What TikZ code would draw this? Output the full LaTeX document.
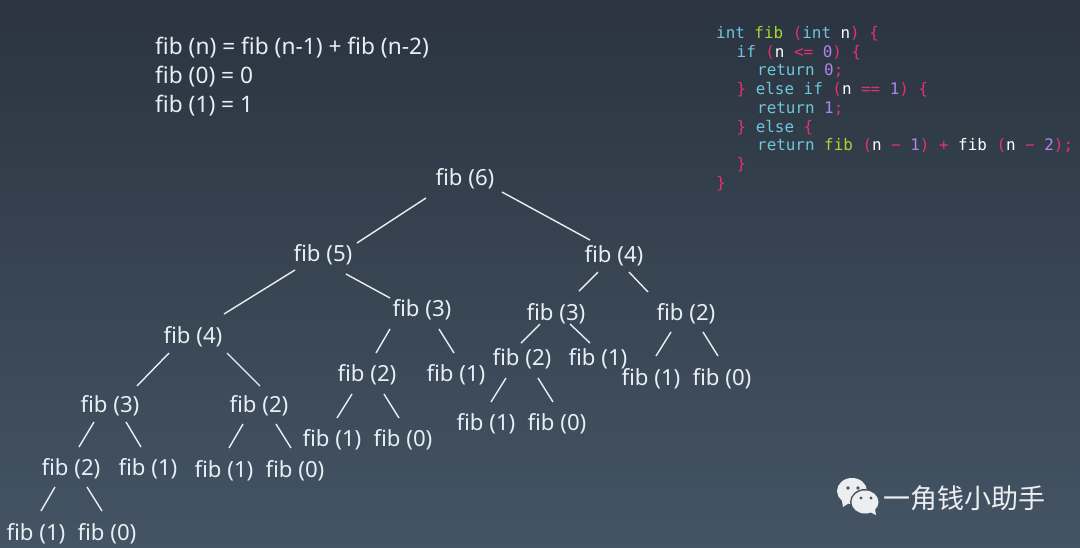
\documentclass[tikz,border=0pt]{standalone}
\usepackage{fontspec}
\setmainfont{Noto Sans}
\setmonofont{DejaVu Sans Mono}
\newfontfamily\cjkfont{Noto Sans CJK SC}
\definecolor{ink}{HTML}{E6F0F4}
\definecolor{bgtop}{HTML}{2B3440}
\definecolor{bgbottom}{HTML}{445464}
\definecolor{keyword}{HTML}{6CC6DC}
\definecolor{callname}{HTML}{A6D52F}
\definecolor{symbol}{HTML}{E5306F}
\definecolor{number}{HTML}{AE86EE}
\definecolor{logo}{HTML}{ECEEF0}
\newcommand{\kw}[1]{\textcolor{keyword}{#1}}
\newcommand{\fn}[1]{\textcolor{callname}{#1}}
\newcommand{\sy}[1]{\textcolor{symbol}{#1}}
\newcommand{\nm}[1]{\textcolor{number}{#1}}
\begin{document}
\begin{tikzpicture}[
  x=1pt, y=-1pt,
  fibnode/.style={text=ink, inner sep=0pt, text height=21pt, text depth=5pt, font=\fontsize{22.2}{25}\selectfont},
  formula/.style={fibnode, anchor=west, font=\fontsize{22.7}{25}\selectfont},
  link/.style={draw=ink, line width=1.4pt},
  code/.style={anchor=north west, inner sep=0pt, align=left, text=white,
    font=\ttfamily\fontsize{15.9}{18.75}\selectfont}
]
  \useasboundingbox (0,0) rectangle (1080,547);
  \path[shade, top color=bgtop, bottom color=bgbottom] (0,0) rectangle (1080,547);

  \node[formula] (rule) at (155,46) {fib (n) = fib (n-1) + fib (n-2)};
  \node[formula] (base0) at (155,75) {fib (0) = 0};
  \node[formula] (base1) at (155,104) {fib (1) = 1};

  \node[code] (source) at (716,26) {%
    \kw{int} \fn{fib} \sy{(}\kw{int} n\sy{)} \sy{\{}\\
    \hspace*{20.5pt}\kw{if} \sy{(}n \sy{<=} \nm{0}\sy{)} \sy{\{}\\
    \hspace*{41pt}\kw{return} \nm{0}\sy{;}\\
    \hspace*{20.5pt}\sy{\}} \kw{else} \kw{if} \sy{(}n \sy{==} \nm{1}\sy{)} \sy{\{}\\
    \hspace*{41pt}\kw{return} \nm{1}\sy{;}\\
    \hspace*{20.5pt}\sy{\}} \kw{else} \sy{\{}\\
    \hspace*{41pt}\kw{return} \fn{fib} \sy{(}n \sy{−} \nm{1}\sy{)} \sy{+} fib \sy{(}n \sy{−} \nm{2}\sy{)}\sy{;}\\
    \hspace*{20.5pt}\sy{\}}\\
    \sy{\}}};

  \node[fibnode] (six) at (465,177) {fib (6)};
  \node[fibnode] (five) at (323,253) {fib (5)};
  \node[fibnode] (fourR) at (614,254) {fib (4)};
  \node[fibnode] (fourL) at (193,335) {fib (4)};
  \node[fibnode] (threeM) at (422,308) {fib (3)};
  \node[fibnode] (threeR) at (556,312) {fib (3)};
  \node[fibnode] (twoR) at (686,312) {fib (2)};
  \node[fibnode] (threeL) at (110,404) {fib (3)};
  \node[fibnode] (twoL) at (259,404) {fib (2)};
  \node[fibnode] (twoM) at (367,373) {fib (2)};
  \node[fibnode] (oneM) at (456,373) {fib (1)};
  \node[fibnode] (twoS) at (522,357) {fib (2)};
  \node[fibnode] (oneS) at (598,357) {fib (1)};
  \node[fibnode] (oneT) at (651,377) {fib (1)};
  \node[fibnode] (zeroT) at (722,377) {fib (0)};
  \node[fibnode] (twoB) at (71,467) {fib (2)};
  \node[fibnode] (oneB) at (148,467) {fib (1)};
  \node[fibnode] (oneC) at (224,469) {fib (1)};
  \node[fibnode] (zeroC) at (295,469) {fib (0)};
  \node[fibnode] (oneD) at (332,438) {fib (1)};
  \node[fibnode] (zeroD) at (403,438) {fib (0)};
  \node[fibnode] (oneE) at (486,422) {fib (1)};
  \node[fibnode] (zeroE) at (557,422) {fib (0)};
  \node[fibnode] (oneG) at (36,532) {fib (1)};
  \node[fibnode] (zeroG) at (107,532) {fib (0)};

  \draw[link] ([shift={(-39,21)}]six.center) -- ([shift={(34,-10)}]five.center);
  \draw[link] ([shift={(37,15)}]six.center) -- ([shift={(-24,-14)}]fourR.center);
  \draw[link] ([shift={(-28,17)}]five.center) -- ([shift={(31,-21)}]fourL.center);
  \draw[link] ([shift={(23,21)}]five.center) -- ([shift={(-32,-10)}]threeM.center);
  \draw[link] ([shift={(-24,18)}]fourL.center) -- ([shift={(27,-18)}]threeL.center);
  \draw[link] ([shift={(34,18)}]fourL.center) -- ([shift={(1,-18)}]twoL.center);
  \draw[link] ([shift={(-32,21)}]threeM.center) -- ([shift={(9,-20)}]twoM.center);
  \draw[link] ([shift={(17,21)}]threeM.center) -- ([shift={(-2,-20)}]oneM.center);
  \draw[link] ([shift={(-16,18)}]fourR.center) -- ([shift={(23,-21)}]threeR.center);
  \draw[link] ([shift={(15,18)}]fourR.center) -- ([shift={(-38,-20)}]twoR.center);
  \draw[link] ([shift={(-16,12)}]threeR.center) -- ([shift={(-1,-14)}]twoS.center);
  \draw[link] ([shift={(14,12)}]threeR.center) -- ([shift={(-8,-14)}]oneS.center);
  \draw[link] ([shift={(-15,20)}]twoR.center) -- ([shift={(5,-21)}]oneT.center);
  \draw[link] ([shift={(17,20)}]twoR.center) -- ([shift={(-4,-21)}]zeroT.center);
  \draw[link] ([shift={(-16,21)}]twoS.center) -- ([shift={(5,-20)}]oneE.center);
  \draw[link] ([shift={(16,21)}]twoS.center) -- ([shift={(-4,-20)}]zeroE.center);
  \draw[link] ([shift={(-15,21)}]twoM.center) -- ([shift={(5,-20)}]oneD.center);
  \draw[link] ([shift={(17,21)}]twoM.center) -- ([shift={(-4,-20)}]zeroD.center);
  \draw[link] ([shift={(-16,18)}]threeL.center) -- ([shift={(8,-20)}]twoB.center);
  \draw[link] ([shift={(16,18)}]threeL.center) -- ([shift={(-7,-20)}]oneB.center);
  \draw[link] ([shift={(-16,20)}]twoL.center) -- ([shift={(5,-21)}]oneC.center);
  \draw[link] ([shift={(17,20)}]twoL.center) -- ([shift={(-4,-21)}]zeroC.center);
  \draw[link] ([shift={(-16,20)}]twoB.center) -- ([shift={(5,-21)}]oneG.center);
  \draw[link] ([shift={(16,20)}]twoB.center) -- ([shift={(-5,-21)}]zeroG.center);

  \fill[logo] (852,491) ellipse (15 and 13);
  \fill[logo] (842,501) -- (843,507) -- (849,503) -- cycle;
  \fill[bgbottom] (865,502) ellipse (15 and 13);
  \fill[logo] (865,502) ellipse (13.5 and 11.5);
  \fill[logo] (870,512) -- (876,515) -- (875,509) -- cycle;
  \fill[bgbottom] (848,488) circle (1.8) (858,488) circle (1.8) (861,498) circle (1.6) (871,498) circle (1.6);

  \node[anchor=west, inner sep=0pt, text=logo, font=\cjkfont\fontsize{27}{30}\selectfont] (brand) at (883,498) {一角钱小助手};
\end{tikzpicture}
\end{document}
